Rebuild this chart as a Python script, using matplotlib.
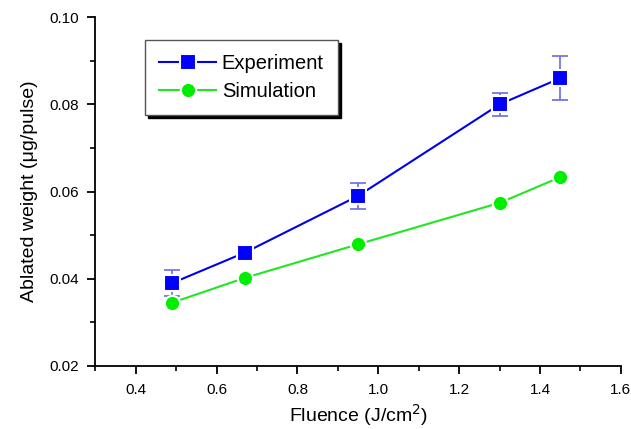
import numpy as np
import matplotlib.pyplot as plt
from matplotlib.ticker import MultipleLocator

plt.rcParams['font.family'] = ['Liberation Sans', 'DejaVu Sans']

fluence = [0.49, 0.67, 0.95, 1.30, 1.45]
experiment = [0.039, 0.046, 0.059, 0.080, 0.086]
experiment_err = [0.003, 0.0013, 0.003, 0.0027, 0.005]
simulation = [0.0345, 0.0402, 0.0479, 0.0574, 0.0633]

fig = plt.figure(figsize=(6.31, 4.29), dpi=100)
ax = fig.add_axes([0.151, 0.147, 0.833, 0.813])

# error bars drawn separately, in a lighter blue
ax.errorbar(fluence, experiment, yerr=experiment_err, fmt='none',
            ecolor='#6a6ae8', elinewidth=1.2, capsize=5.5, capthick=1.2, zorder=2)

# white marker edges leave the small gap around each point
ax.plot(fluence, experiment, color='#0000ee', lw=1.5, marker='s', ms=11,
        mfc='#0000ff', mec='white', mew=1.5, label='Experiment', zorder=3)
ax.plot(fluence, simulation, color='#22e622', lw=1.5, marker='o', ms=11,
        mfc='#00ee00', mec='white', mew=1.5, label='Simulation', zorder=3)

ax.set_xlim(0.3, 1.6)
ax.set_ylim(0.02, 0.10)
ax.xaxis.set_major_locator(MultipleLocator(0.2))
ax.xaxis.set_minor_locator(MultipleLocator(0.1))
ax.yaxis.set_major_locator(MultipleLocator(0.02))
ax.yaxis.set_minor_locator(MultipleLocator(0.01))
ax.xaxis.set_major_formatter(plt.FuncFormatter(lambda v, p: f'{v:.1f}'))
ax.yaxis.set_major_formatter(plt.FuncFormatter(lambda v, p: f'{v:.2f}'))

for side in ('top', 'right'):
    ax.spines[side].set_visible(False)
for side in ('left', 'bottom'):
    ax.spines[side].set_linewidth(1.3)
ax.tick_params(which='major', direction='out', length=6, width=1.3, labelsize=11, pad=6)
ax.tick_params(which='minor', direction='out', length=3.5, width=1.2)

ax.set_xlabel('Fluence (J/cm$^2$)', fontsize=14, labelpad=4)
ax.set_ylabel('Ablated weight (μg/pulse)', fontsize=14, labelpad=8)

leg = ax.legend(loc='upper left', bbox_to_anchor=(0.095, 0.935), fontsize=14.5,
                frameon=True, fancybox=False, shadow={'color': 'black', 'alpha': 1.0},
                edgecolor='#555555', borderpad=0.7, handlelength=2.8,
                labelspacing=0.45, handletextpad=0.3, borderaxespad=0)
leg.get_frame().set_linewidth(1.0)

fig.savefig('out.png', dpi=100)
